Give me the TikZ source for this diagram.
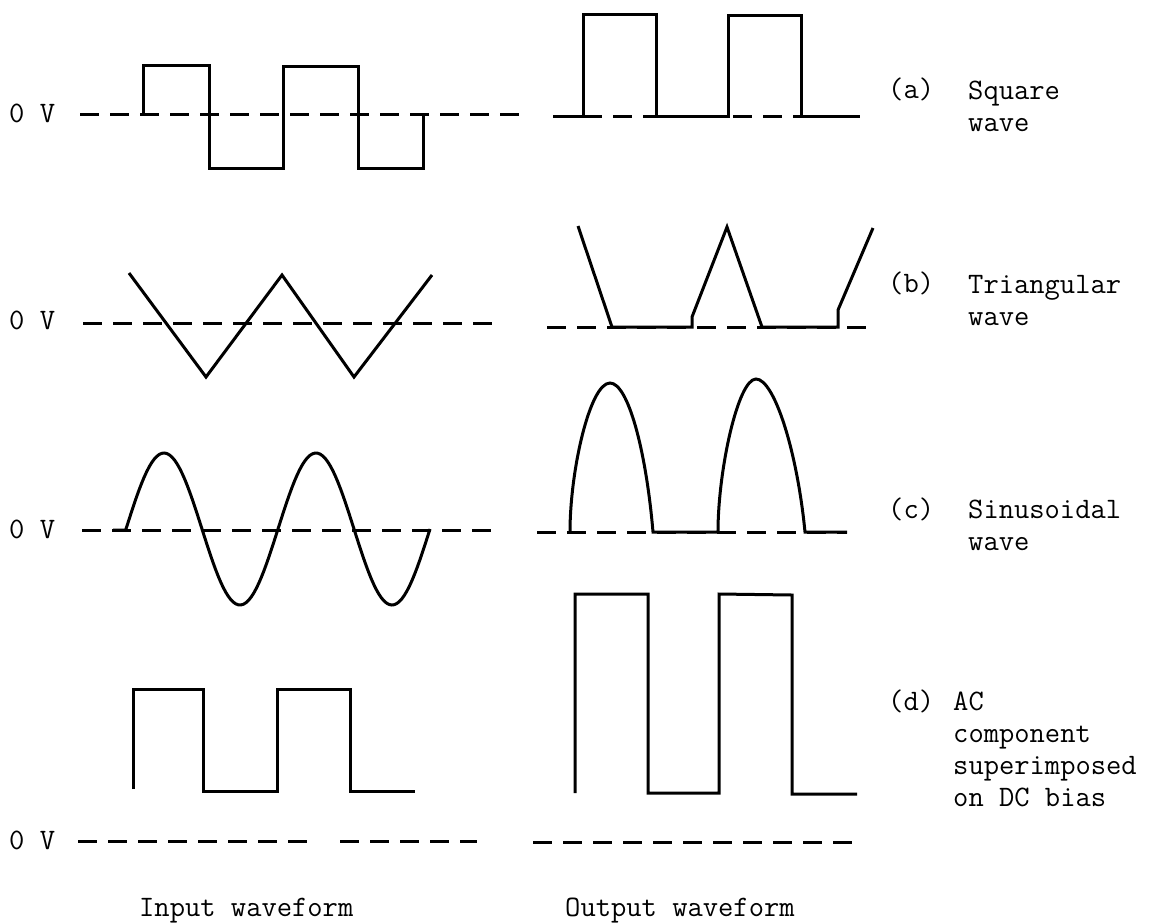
\documentclass[tikz,border=0pt]{standalone}
\usepackage{fontspec}
\begin{document}
\begin{tikzpicture}[x=1pt,y=-1pt,
  wave/.style={line width=3pt, line join=miter},
  zeroline/.style={line width=3pt, dash pattern=on 19pt off 11pt},
  txt/.style={font=\ttfamily\fontsize{29.7}{32}\selectfont, inner sep=0pt, anchor=base west, align=left}]
\useasboundingbox (0,0) rectangle (1165,922);

% 0 V reference lines
\node[txt] (va) at (9,122) {0 V};
\node[txt] (vb) at (9,329) {0 V};
\node[txt] (vc) at (9,538) {0 V};
\node[txt] (vd) at (9,849) {0 V};
\draw[zeroline] (80,114) -- (521,114);
\draw[zeroline] (553,116) -- (860,116);
\draw[zeroline] (83,323) -- (492,323);
\draw[zeroline] (547,327) -- (870,327);
\draw[zeroline] (82,530) -- (493,530);
\draw[zeroline] (537,532) -- (847,532);
\draw[zeroline] (78,841) -- (310,841);
\draw[zeroline] (340,841) -- (477,841);
\draw[zeroline] (533,842) -- (863,842);

% (a) square wave
\draw[wave] (143,114) -- (143,65) -- (209,65) -- (209,168) -- (283,168) -- (283,66)
  -- (358,66) -- (358,168) -- (423,168) -- (423,114);
\draw[wave] (553,116) -- (583,116) -- (583,14) -- (656,14) -- (656,116) -- (728,116)
  -- (728,15) -- (801,15) -- (801,116) -- (860,116);

% (b) triangular wave
\draw[wave] (129,273) -- (206,377) -- (282,275) -- (354,377) -- (432,275);
\draw[wave] (578,226) -- (612,327) -- (692,327) -- (692,317) -- (727,227) -- (762,327)
  -- (838,327) -- (838,310) -- (873,228);

% (c) sinusoidal wave
\draw[wave] (113,530) -- (126,530) -- plot[domain=0:720, samples=120] ({126+\x/360*152},{529-76*sin(\x)});
\draw[wave] (570,532) .. controls (570,470) and (590,383) .. (610,383)
  .. controls (628,383) and (646,450) .. (653,532) -- (718,532)
  .. controls (718,470) and (738,379) .. (756,379)
  .. controls (774,379) and (797,450) .. (805,532) -- (847,532);

% (d) AC on DC bias
\draw[wave] (133,789) -- (133,689) -- (203,689) -- (203,791) -- (277,791) -- (277,689)
  -- (350,689) -- (350,791) -- (415,791);
\draw[wave] (575,793) -- (575,594) -- (648,594) -- (648,793) -- (719,793) -- (719,594)
  -- (792,595) -- (792,794) -- (857,794);

% captions (base anchor sits on the last line)
\node[txt] (la) at (888,98) {(a)};
\node[txt] (ta) at (968,131) {Square\\wave};
\node[txt] (lb) at (888,292) {(b)};
\node[txt] (tb) at (968,325) {Triangular\\wave};
\node[txt] (lc) at (888,518) {(c)};
\node[txt] (tc) at (968,550) {Sinusoidal\\wave};
\node[txt] (ld) at (888,710) {(d)};
\node[txt] (td) at (953,806) {AC\\component\\superimposed\\on DC bias};
\node[txt] (in) at (139,916) {Input waveform};
\node[txt] (out) at (565,916) {Output waveform};
\end{tikzpicture}
\end{document}
